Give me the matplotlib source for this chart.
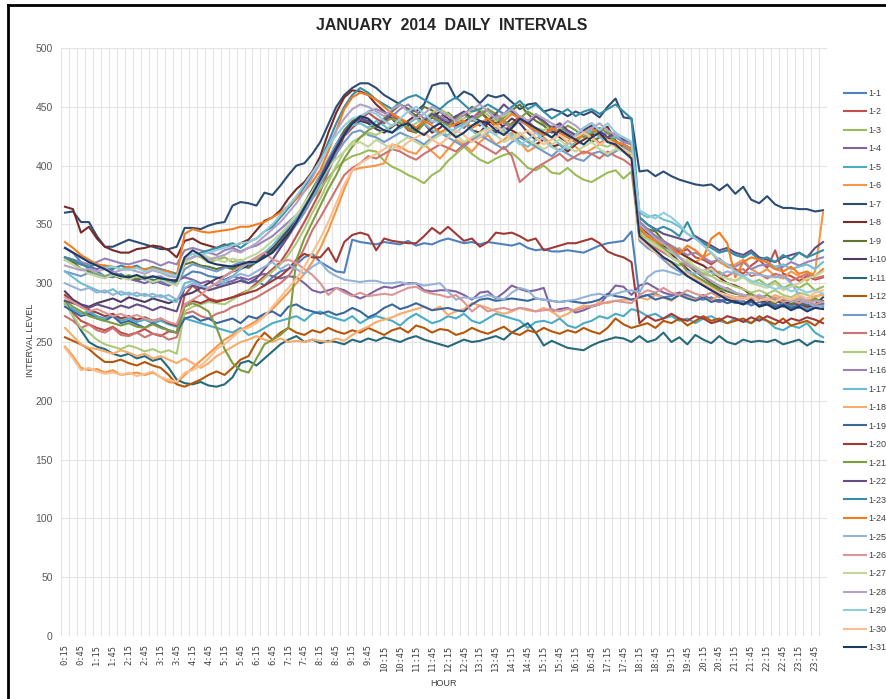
import numpy as np
import matplotlib.pyplot as plt
from matplotlib.lines import Line2D

plt.rcParams['font.family'] = ['Liberation Sans', 'DejaVu Sans']

# 15-minute interval categories, 0:15 .. 24:00
times = [f"{m // 60}:{m % 60:02d}" for m in range(15, 24 * 60 + 1, 15)]

# daily interval levels (96 values per day)
d01 = [330, 326, 318, 312, 310, 306, 305, 308, 304, 302, 305, 300, 302, 298, 303, 306,
       310, 309, 306, 305, 303, 306, 304, 300, 302, 298, 305, 310, 312, 316, 322, 325,
       318, 314, 310, 309, 337, 335, 334, 333, 335, 334, 333, 336, 332, 334, 333, 336,
       338, 336, 334, 335, 333, 335, 334, 333, 332, 334, 330, 328, 329, 327, 327, 328,
       327, 326, 329, 332, 334, 335, 336, 344, 288, 290, 291, 288, 289, 292, 290, 287,
       286, 288, 284, 286, 283, 285, 281, 284, 282, 280, 283, 281, 279, 282, 280, 283]
d02 = [283, 275, 268, 265, 262, 260, 263, 258, 256, 258, 261, 257, 255, 259, 258, 290,
       298, 292, 287, 285, 286, 288, 291, 294, 300, 306, 312, 318, 328, 340, 352, 365,
       378, 395, 410, 425, 432, 438, 445, 440, 436, 442, 438, 430, 428, 436, 441, 437,
       444, 438, 432, 440, 446, 439, 433, 428, 436, 442, 438, 431, 426, 433, 428, 424,
       421, 428, 425, 419, 423, 418, 414, 410, 348, 343, 338, 335, 330, 326, 329, 322,
       320, 316, 321, 314, 312, 308, 315, 320, 313, 328, 308, 306, 302, 306, 303, 305]
d03 = [320, 316, 312, 310, 308, 306, 309, 305, 307, 304, 306, 302, 305, 303, 300, 322,
       325, 322, 318, 320, 322, 318, 320, 316, 320, 326, 330, 336, 342, 350, 360, 372,
       380, 390, 398, 404, 408, 410, 413, 412, 404, 399, 396, 392, 389, 385, 392, 396,
       404, 410, 416, 410, 405, 402, 406, 409, 411, 405, 398, 396, 400, 394, 393, 398,
       392, 388, 386, 390, 394, 396, 389, 395, 338, 332, 328, 322, 318, 315, 318, 312,
       308, 306, 310, 304, 302, 306, 300, 303, 298, 302, 296, 299, 296, 300, 294, 297]
d04 = [320, 318, 316, 314, 312, 315, 310, 306, 304, 302, 300, 303, 300, 298, 302, 305,
       303, 300, 302, 298, 300, 302, 305, 303, 306, 308, 306, 304, 306, 305, 300, 294,
       292, 294, 296, 294, 290, 287, 290, 294, 297, 296, 298, 300, 300, 294, 293, 294,
       294, 293, 290, 286, 292, 293, 287, 292, 298, 295, 293, 294, 296, 276, 278, 279,
       275, 277, 280, 282, 290, 298, 297, 290, 298, 300, 296, 292, 290, 292, 288, 286,
       290, 286, 284, 288, 286, 283, 285, 281, 284, 282, 280, 283, 281, 279, 282, 280]
d05 = [282, 278, 274, 276, 272, 270, 273, 268, 270, 267, 269, 266, 268, 265, 263, 270,
       268, 266, 264, 262, 260, 258, 262, 256, 258, 262, 266, 268, 270, 272, 268, 274,
       276, 272, 270, 268, 272, 266, 270, 272, 270, 268, 264, 270, 274, 270, 266, 268,
       272, 270, 274, 268, 266, 270, 274, 272, 270, 268, 262, 267, 268, 266, 270, 264,
       262, 266, 268, 272, 270, 274, 272, 278, 276, 272, 274, 270, 272, 268, 270, 266,
       270, 272, 268, 266, 270, 268, 266, 270, 268, 262, 260, 264, 262, 266, 258, 254]
d06 = [246, 238, 228, 226, 227, 224, 226, 222, 223, 224, 222, 224, 220, 216, 215, 222,
       228, 234, 240, 246, 252, 256, 260, 264, 268, 272, 278, 285, 292, 300, 308, 318,
       330, 345, 362, 380, 396, 398, 399, 400, 402, 418, 416, 412, 410, 418, 412, 406,
       414, 422, 418, 412, 420, 426, 418, 422, 428, 420, 412, 416, 424, 418, 412, 420,
       416, 410, 414, 418, 422, 416, 412, 408, 342, 336, 332, 328, 326, 330, 322, 318,
       322, 326, 318, 314, 316, 320, 312, 308, 312, 306, 304, 310, 306, 302, 310, 360]
d07 = [360, 361, 352, 352, 340, 331, 331, 334, 337, 335, 333, 331, 329, 329, 331, 347,
       347, 346, 349, 351, 352, 366, 369, 368, 366, 377, 375, 383, 392, 400, 402, 410,
       420, 435, 450, 460, 466, 470, 470, 466, 460, 456, 452, 448, 446, 452, 468, 470,
       470, 457, 463, 460, 453, 460, 458, 460, 454, 448, 452, 453, 446, 448, 446, 442,
       446, 443, 446, 441, 450, 457, 441, 440, 395, 396, 391, 395, 391, 388, 386, 384,
       383, 384, 379, 384, 376, 382, 371, 368, 374, 367, 364, 364, 363, 363, 361, 362]
d08 = [365, 363, 343, 348, 338, 331, 328, 326, 326, 329, 330, 332, 331, 328, 322, 336,
       338, 334, 332, 330, 333, 331, 334, 337, 345, 353, 356, 362, 372, 380, 386, 395,
       408, 428, 445, 458, 464, 463, 460, 452, 446, 440, 432, 438, 443, 436, 428, 432,
       438, 442, 436, 430, 428, 436, 440, 432, 430, 426, 421, 418, 422, 416, 418, 412,
       418, 422, 426, 430, 433, 421, 416, 408, 352, 346, 340, 335, 330, 326, 322, 318,
       315, 310, 305, 300, 298, 295, 290, 288, 286, 285, 283, 284, 282, 280, 281, 283]
d09 = [322, 318, 312, 310, 306, 305, 307, 304, 306, 303, 305, 302, 304, 301, 303, 316,
       318, 315, 314, 312, 314, 312, 315, 313, 318, 322, 328, 335, 345, 356, 368, 380,
       392, 405, 418, 430, 438, 441, 436, 432, 440, 446, 452, 448, 442, 450, 447, 441,
       445, 439, 443, 450, 446, 440, 436, 441, 447, 452, 444, 438, 434, 428, 431, 426,
       422, 428, 420, 424, 428, 421, 415, 412, 350, 346, 344, 336, 330, 322, 316, 310,
       305, 300, 296, 293, 291, 290, 286, 288, 285, 283, 286, 282, 284, 281, 286, 285]
d10 = [293, 286, 282, 280, 283, 285, 287, 284, 288, 286, 284, 287, 285, 283, 286, 290,
       292, 296, 300, 304, 306, 310, 312, 315, 318, 324, 330, 338, 346, 356, 366, 378,
       390, 404, 418, 428, 434, 438, 436, 431, 428, 433, 438, 434, 430, 436, 441, 446,
       440, 434, 437, 442, 438, 432, 428, 434, 440, 436, 428, 422, 426, 430, 424, 420,
       426, 430, 434, 428, 424, 420, 418, 414, 348, 343, 338, 332, 325, 318, 312, 306,
       302, 298, 294, 290, 288, 286, 289, 285, 284, 287, 282, 285, 286, 284, 282, 288]
d11 = [285, 272, 260, 250, 246, 244, 240, 238, 240, 236, 238, 234, 236, 228, 218, 215,
       214, 216, 213, 212, 214, 220, 232, 234, 230, 236, 242, 248, 252, 255, 250, 252,
       249, 251, 250, 248, 252, 250, 253, 251, 254, 252, 250, 253, 255, 252, 250, 248,
       246, 249, 252, 250, 251, 253, 255, 252, 258, 262, 266, 258, 247, 251, 248, 245,
       244, 243, 247, 250, 252, 254, 253, 250, 255, 250, 252, 258, 250, 254, 248, 256,
       252, 249, 255, 250, 248, 252, 250, 251, 250, 252, 248, 250, 252, 247, 251, 250]
d12 = [254, 251, 248, 244, 238, 233, 233, 235, 232, 230, 233, 230, 228, 222, 214, 212,
       215, 218, 222, 225, 222, 228, 235, 238, 250, 258, 252, 258, 262, 258, 256, 260,
       258, 262, 259, 257, 260, 258, 262, 259, 256, 260, 262, 258, 264, 262, 258, 261,
       260, 256, 258, 262, 259, 257, 260, 263, 258, 256, 260, 258, 262, 259, 257, 260,
       258, 262, 259, 257, 262, 270, 265, 262, 264, 266, 262, 268, 266, 270, 264, 268,
       272, 268, 270, 266, 268, 270, 266, 272, 268, 265, 270, 264, 266, 268, 264, 270]
d13 = [310, 308, 306, 309, 307, 305, 308, 306, 304, 306, 303, 305, 306, 302, 298, 312,
       316, 314, 312, 310, 313, 315, 318, 316, 318, 322, 326, 332, 340, 350, 360, 372,
       384, 396, 410, 420, 428, 430, 426, 424, 420, 424, 428, 425, 422, 418, 424, 428,
       424, 420, 416, 422, 426, 422, 418, 414, 420, 424, 420, 416, 412, 408, 414, 410,
       406, 404, 410, 412, 408, 412, 416, 412, 336, 330, 326, 320, 314, 310, 306, 302,
       298, 294, 290, 288, 285, 283, 284, 281, 282, 280, 283, 279, 281, 278, 280, 282]
d14 = [272, 268, 262, 265, 260, 258, 262, 256, 255, 258, 254, 257, 256, 252, 254, 274,
       276, 272, 270, 274, 276, 280, 282, 285, 288, 292, 296, 300, 306, 316, 330, 345,
       356, 368, 380, 392, 398, 402, 408, 406, 410, 414, 412, 408, 405, 410, 414, 418,
       415, 412, 418, 422, 418, 414, 410, 416, 408, 386, 392, 398, 402, 406, 410, 404,
       408, 412, 410, 406, 412, 408, 405, 400, 338, 334, 330, 326, 322, 318, 315, 312,
       310, 314, 308, 306, 310, 312, 306, 308, 304, 308, 306, 302, 305, 308, 304, 306]
d15 = [283, 272, 262, 258, 252, 248, 246, 244, 247, 245, 242, 244, 241, 243, 240, 276,
       280, 282, 284, 283, 282, 286, 290, 294, 298, 304, 310, 316, 324, 334, 346, 360,
       372, 386, 400, 412, 420, 424, 428, 426, 430, 434, 438, 432, 436, 440, 445, 448,
       444, 438, 440, 446, 448, 443, 438, 442, 446, 440, 436, 432, 430, 434, 428, 424,
       420, 426, 424, 418, 416, 420, 412, 410, 344, 338, 334, 330, 326, 322, 318, 314,
       310, 306, 302, 300, 297, 295, 292, 294, 291, 294, 290, 288, 292, 290, 288, 291]
d16 = [322, 320, 318, 316, 318, 321, 319, 317, 316, 318, 320, 318, 315, 318, 316, 328,
       330, 328, 326, 324, 328, 330, 327, 330, 332, 336, 340, 346, 352, 358, 366, 376,
       388, 402, 415, 426, 434, 440, 446, 448, 445, 442, 448, 452, 446, 440, 436, 442,
       438, 432, 436, 440, 444, 448, 442, 436, 432, 438, 434, 428, 426, 430, 434, 428,
       424, 428, 432, 426, 428, 424, 420, 418, 352, 346, 340, 336, 332, 328, 324, 326,
       322, 318, 320, 316, 314, 318, 312, 315, 316, 312, 314, 318, 315, 318, 320, 322]
d17 = [310, 305, 300, 297, 294, 292, 295, 290, 292, 289, 291, 288, 290, 286, 284, 300,
       302, 298, 294, 296, 300, 306, 312, 318, 322, 326, 332, 340, 348, 356, 366, 378,
       392, 406, 418, 428, 434, 436, 432, 438, 434, 428, 432, 436, 440, 436, 430, 428,
       426, 432, 436, 430, 424, 428, 434, 430, 426, 420, 416, 422, 428, 424, 418, 414,
       420, 426, 430, 424, 420, 425, 422, 420, 360, 356, 358, 354, 352, 348, 342, 338,
       334, 330, 326, 328, 324, 322, 326, 320, 318, 314, 316, 312, 314, 316, 312, 318]
d18 = [262, 255, 248, 245, 244, 242, 240, 243, 241, 238, 240, 236, 238, 235, 232, 236,
       232, 228, 232, 238, 242, 246, 250, 252, 255, 252, 250, 253, 250, 251, 250, 252,
       251, 250, 253, 251, 256, 260, 263, 267, 269, 271, 274, 276, 278, 280, 277, 280,
       273, 276, 278, 283, 281, 279, 276, 274, 276, 279, 277, 276, 279, 276, 271, 274,
       278, 281, 280, 284, 283, 285, 286, 286, 288, 286, 290, 288, 285, 290, 288, 286,
       288, 285, 290, 287, 286, 289, 284, 288, 286, 290, 287, 284, 288, 285, 289, 290]
d19 = [280, 276, 272, 274, 270, 268, 272, 266, 268, 265, 262, 266, 263, 260, 258, 270,
       272, 268, 270, 266, 268, 270, 266, 272, 270, 274, 276, 272, 280, 282, 278, 276,
       274, 276, 273, 275, 279, 276, 271, 274, 279, 282, 278, 280, 283, 280, 277, 278,
       279, 277, 276, 282, 286, 287, 285, 286, 287, 286, 285, 287, 286, 285, 284, 285,
       284, 283, 284, 286, 291, 289, 288, 286, 288, 290, 286, 288, 286, 290, 287, 285,
       288, 284, 286, 283, 285, 282, 284, 281, 283, 280, 282, 279, 281, 283, 279, 282]
d20 = [290, 284, 280, 277, 275, 272, 274, 270, 272, 269, 271, 268, 270, 266, 264, 282,
       285, 283, 286, 284, 286, 288, 290, 292, 294, 298, 302, 306, 312, 320, 325, 322,
       322, 330, 318, 335, 341, 343, 341, 328, 338, 336, 335, 334, 334, 340, 347, 342,
       348, 342, 336, 338, 331, 335, 343, 342, 343, 340, 336, 338, 328, 330, 332, 334,
       334, 336, 338, 334, 327, 324, 322, 318, 266, 272, 268, 270, 274, 270, 268, 272,
       270, 266, 268, 272, 270, 267, 271, 268, 272, 269, 266, 270, 268, 271, 269, 266]
d21 = [285, 280, 276, 272, 270, 268, 266, 264, 266, 263, 262, 265, 262, 260, 258, 280,
       283, 280, 276, 262, 244, 232, 226, 224, 236, 248, 252, 256, 262, 320, 338, 352,
       366, 380, 392, 406, 416, 424, 430, 434, 438, 440, 436, 432, 428, 436, 442, 438,
       434, 440, 444, 438, 442, 448, 444, 438, 434, 440, 446, 442, 436, 432, 428, 434,
       430, 424, 428, 432, 428, 420, 418, 414, 346, 340, 336, 330, 322, 318, 310, 306,
       302, 298, 294, 296, 292, 289, 291, 287, 290, 286, 288, 284, 286, 283, 287, 284]
d22 = [285, 283, 281, 279, 282, 280, 278, 281, 279, 282, 280, 277, 280, 278, 276, 296,
       298, 296, 294, 296, 298, 300, 302, 300, 304, 312, 320, 330, 340, 352, 364, 376,
       390, 404, 416, 428, 436, 440, 438, 434, 438, 444, 440, 436, 432, 438, 444, 440,
       436, 442, 446, 440, 434, 438, 444, 452, 446, 440, 436, 442, 438, 432, 436, 430,
       426, 432, 436, 430, 424, 428, 422, 420, 356, 350, 346, 342, 340, 338, 336, 340,
       336, 332, 328, 330, 326, 324, 328, 322, 320, 318, 322, 324, 326, 322, 330, 335]
d23 = [322, 320, 316, 314, 316, 314, 312, 315, 313, 315, 311, 314, 312, 310, 308, 318,
       322, 326, 328, 330, 332, 334, 330, 335, 338, 344, 348, 356, 364, 372, 382, 392,
       404, 420, 436, 450, 460, 466, 462, 456, 452, 448, 454, 458, 460, 456, 452, 448,
       454, 458, 452, 446, 448, 452, 448, 444, 450, 455, 448, 452, 446, 440, 444, 448,
       442, 446, 448, 444, 448, 452, 446, 440, 356, 350, 345, 348, 345, 340, 352, 338,
       334, 330, 326, 328, 324, 322, 326, 320, 322, 318, 324, 320, 326, 322, 325, 328]
d24 = [335, 330, 324, 320, 316, 315, 314, 312, 314, 313, 312, 313, 311, 310, 306, 342,
       346, 344, 343, 344, 345, 346, 348, 348, 350, 352, 356, 360, 366, 372, 378, 386,
       396, 412, 430, 448, 458, 462, 460, 456, 450, 444, 440, 436, 432, 438, 434, 428,
       432, 436, 438, 432, 436, 440, 434, 438, 444, 440, 434, 430, 426, 432, 428, 424,
       420, 428, 432, 426, 422, 420, 418, 414, 348, 340, 336, 333, 330, 325, 332, 328,
       322, 338, 343, 334, 305, 318, 322, 320, 318, 312, 310, 314, 308, 310, 306, 312]
d25 = [300, 297, 294, 296, 292, 294, 290, 293, 290, 292, 289, 291, 288, 290, 286, 296,
       300, 298, 296, 300, 302, 305, 308, 306, 310, 314, 318, 312, 316, 312, 308, 314,
       318, 310, 306, 303, 302, 301, 302, 302, 300, 300, 301, 299, 300, 298, 299, 300,
       293, 286, 288, 287, 288, 290, 288, 286, 292, 296, 294, 287, 286, 285, 284, 285,
       286, 288, 290, 291, 289, 291, 293, 294, 292, 305, 310, 311, 309, 307, 310, 308,
       311, 309, 307, 310, 308, 306, 309, 307, 306, 305, 306, 300, 290, 284, 280, 281]
d26 = [288, 284, 280, 276, 278, 275, 272, 274, 271, 273, 270, 268, 270, 267, 265, 282,
       286, 290, 296, 300, 306, 310, 314, 318, 322, 326, 320, 318, 320, 317, 312, 307,
       300, 290, 296, 292, 289, 292, 289, 290, 291, 290, 293, 296, 297, 293, 291, 290,
       288, 290, 284, 276, 281, 276, 278, 279, 277, 279, 278, 276, 277, 278, 276, 278,
       277, 279, 281, 282, 284, 285, 284, 283, 290, 294, 292, 296, 292, 290, 294, 291,
       289, 292, 288, 290, 287, 290, 286, 288, 285, 288, 284, 286, 283, 286, 282, 284]
d27 = [320, 316, 312, 308, 306, 304, 307, 305, 303, 306, 304, 301, 303, 300, 298, 318,
       322, 325, 322, 320, 318, 321, 319, 322, 325, 330, 336, 342, 350, 358, 368, 378,
       388, 398, 406, 412, 418, 420, 416, 422, 418, 414, 420, 424, 420, 416, 422, 426,
       430, 426, 420, 424, 428, 432, 426, 420, 424, 428, 422, 418, 414, 418, 422, 416,
       412, 416, 420, 414, 410, 414, 412, 406, 340, 336, 332, 328, 322, 318, 320, 314,
       310, 312, 306, 304, 302, 305, 300, 298, 296, 300, 294, 297, 300, 304, 306, 310]
d28 = [315, 313, 311, 312, 310, 312, 309, 311, 312, 310, 308, 311, 309, 306, 305, 320,
       322, 324, 320, 322, 324, 328, 326, 330, 334, 340, 346, 352, 360, 368, 378, 390,
       402, 416, 430, 440, 448, 452, 450, 446, 442, 448, 452, 446, 440, 444, 450, 446,
       442, 438, 444, 448, 452, 446, 440, 444, 448, 442, 438, 444, 440, 436, 432, 438,
       434, 428, 432, 436, 430, 426, 424, 420, 350, 344, 338, 334, 328, 322, 316, 312,
       306, 302, 298, 295, 292, 290, 288, 290, 287, 285, 288, 284, 286, 283, 285, 284]
d29 = [330, 326, 322, 318, 315, 313, 314, 312, 311, 313, 310, 312, 310, 308, 306, 322,
       325, 324, 326, 328, 330, 332, 334, 335, 338, 344, 350, 358, 366, 374, 384, 394,
       404, 416, 426, 434, 440, 442, 446, 444, 438, 434, 440, 446, 450, 444, 438, 436,
       432, 428, 434, 440, 436, 430, 426, 432, 424, 418, 422, 428, 422, 416, 412, 418,
       426, 432, 436, 430, 436, 428, 424, 420, 362, 358, 355, 360, 356, 350, 342, 338,
       332, 326, 320, 316, 310, 306, 302, 300, 298, 295, 297, 293, 295, 292, 294, 291]
d30 = [245, 236, 226, 228, 225, 223, 224, 222, 224, 221, 223, 225, 220, 218, 216, 224,
       226, 230, 236, 244, 248, 254, 260, 262, 266, 272, 280, 288, 296, 304, 314, 326,
       338, 352, 368, 384, 396, 402, 406, 410, 414, 418, 414, 420, 424, 428, 422, 418,
       424, 430, 426, 420, 424, 430, 434, 428, 422, 426, 430, 424, 418, 422, 426, 420,
       424, 428, 424, 418, 422, 418, 414, 410, 338, 332, 326, 322, 316, 312, 308, 304,
       300, 296, 292, 290, 288, 286, 289, 285, 287, 284, 288, 286, 290, 287, 292, 294]
d31 = [330, 326, 322, 318, 315, 312, 308, 306, 305, 307, 304, 306, 304, 303, 302, 322,
       328, 324, 318, 316, 315, 314, 316, 318, 318, 322, 326, 334, 342, 352, 364, 376,
       388, 400, 414, 426, 436, 442, 440, 434, 430, 428, 434, 436, 430, 426, 432, 436,
       430, 424, 428, 434, 438, 436, 430, 426, 432, 440, 436, 432, 428, 424, 430, 426,
       422, 418, 424, 428, 420, 418, 412, 406, 340, 334, 328, 322, 318, 312, 306, 302,
       298, 294, 290, 286, 284, 282, 286, 280, 282, 278, 281, 277, 280, 276, 279, 278]

series = [d01, d02, d03, d04, d05, d06, d07, d08, d09, d10, d11, d12, d13, d14, d15, d16,
          d17, d18, d19, d20, d21, d22, d23, d24, d25, d26, d27, d28, d29, d30, d31]
labels = [f"1-{i}" for i in range(1, 32)]
colors = ['#4F81BD', '#C0504D', '#9BBB59', '#8064A2', '#4BACC6', '#F79646',
          '#2C4D75', '#772C2A', '#5F7530', '#4D3B62', '#276A7C', '#B65708',
          '#729ACA', '#CD7371', '#AFC97A', '#9983B5', '#6FBDD1', '#F9AB6B',
          '#3A679C', '#9E3B38', '#7E9D40', '#664E83', '#358EA6', '#F47D1F',
          '#95B3D7', '#D99694', '#C3D69B', '#B3A2C7', '#93CDDD', '#FAC090',
          '#203864']

assert all(len(s) == len(times) for s in series), [len(s) for s in series]

W, H = 887, 699
fig = plt.figure(figsize=(W / 100, H / 100), dpi=100)
ax = fig.add_axes([61 / W, 1 - 636 / H, (827 - 61) / W, (636 - 48) / H])

x = np.arange(len(times))
handles = []
for vals, lab, col in zip(series, labels, colors):
    ln, = ax.plot(x, vals, color=col, lw=1.5, label=lab, solid_joinstyle='round')
    handles.append(ln)

ax.set_xlim(-0.5, len(times) - 0.5)
ax.set_ylim(0, 500)
ax.set_yticks(np.arange(0, 501, 50))
ax.set_xticks(x[::2])
ax.set_xticklabels(times[::2], rotation=90, fontsize=6.3, color='#404040',
                   family='DejaVu Sans Mono')
ax.set_xticks(np.arange(-0.5, len(times), 1), minor=True)
ax.tick_params(axis='y', labelsize=7.5, labelcolor='#595959', pad=6)
ax.tick_params(axis='x', pad=6)
ax.tick_params(which='both', length=0)
ax.grid(which='minor', axis='x', color='#E3E3E3', lw=0.8)
ax.grid(which='major', axis='y', color='#E3E3E3', lw=0.8)
ax.set_axisbelow(True)
for sp in ax.spines.values():
    sp.set_visible(False)

ax.set_xlabel("HOUR", fontsize=6.5, color='#404040', labelpad=6)
fig.text(31 / W, 1 - 340 / H, "INTERVAL LEVEL", rotation=90, fontsize=6.5,
         color='#404040', ha='center', va='center')
fig.text(452 / W, 1 - 25 / H, "JANUARY  2014  DAILY  INTERVALS", fontsize=11.4,
         fontweight='bold', color='#262626', ha='center', va='center')

fig.legend(handles, labels, loc='upper left', bbox_to_anchor=(844 / W, 1 - 89 / H),
           frameon=False, fontsize=6.5, handlelength=2.4, handletextpad=0.3,
           labelspacing=1.05, borderpad=0, borderaxespad=0, labelcolor='#404040')

# black frame around the chart area
fig.add_artist(Line2D([8.5 / W, 8.5 / W], [0, 1 - 5 / H], transform=fig.transFigure,
                      color='black', lw=2))
fig.add_artist(Line2D([8.5 / W, 1], [1 - 5 / H, 1 - 5 / H], transform=fig.transFigure,
                      color='black', lw=2))

fig.savefig("out.png", dpi=100)
